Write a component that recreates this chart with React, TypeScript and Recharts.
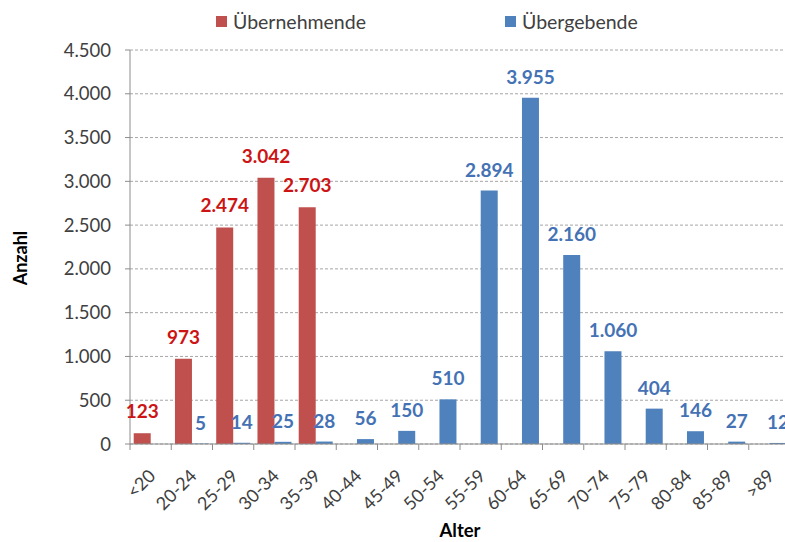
import React from 'react';
import { BarChart, Bar, XAxis, YAxis, CartesianGrid, LabelList, Label } from 'recharts';

const categories = ['<20', '20-24', '25-29', '30-34', '35-39', '40-44', '45-49', '50-54', '55-59', '60-64', '65-69', '70-74', '75-79', '80-84', '85-89', '>89'];
const uebernehmende: (number | null)[] = [123, 973, 2474, 3042, 2703, null, null, null, null, null, null, null, null, null, null, null];
const uebergebende: (number | null)[] = [null, 5, 14, 25, 28, 56, 150, 510, 2894, 3955, 2160, 1060, 404, 146, 27, 12];
const yTicks = [0, 500, 1000, 1500, 2000, 2500, 3000, 3500, 4000, 4500];
const seriesNames = ['Übernehmende', 'Übergebende'];

const data = categories.map((c, i) => ({ cat: c, ueb: uebernehmende[i], ubg: uebergebende[i] }));

const FONT = 'Lato, "Open Sans", sans-serif';
const RED = '#C0504D';
const BLUE = '#4F81BD';
const RED_LABEL = '#CC1414';
const BLUE_LABEL = '#4472B4';
const AXIS = '#8C8C8C';
const TEXT = '#404040';

const CHART_W = 792;
const CHART_H = 542;
const MARGIN = { top: 50, right: 2, bottom: 0, left: 0 };
const Y_W = 130;
const PLOT_W = CHART_W - MARGIN.left - MARGIN.right - Y_W;
const HALF_BAND = PLOT_W / categories.length / 2;

const fmt = (v: any) => {
  if (v === null || v === undefined || v === '') return '';
  return String(v).replace(/\B(?=(\d{3})+(?!\d))/g, '.');
};

const XTick = (props: any) => {
  const { x, y, payload } = props;
  const tx = x + 6;
  const ty = y + 27;
  return (
    <g>
      <line x1={x - HALF_BAND} x2={x - HALF_BAND} y1={y - 6} y2={y} stroke={AXIS} strokeWidth={1} />
      <text x={tx} y={ty} transform={`rotate(-45 ${tx} ${ty})`} textAnchor="end" fill={TEXT} fontSize={18} fontFamily={FONT}>
        {payload.value}
      </text>
    </g>
  );
};

const legendItems = [
  { name: seriesNames[0], color: RED, left: 216 },
  { name: seriesNames[1], color: BLUE, left: 505 },
];

export default function App() {
  return (
    <div style={{ position: 'fixed', left: 0, top: 0, width: 785, height: 542, overflow: 'hidden', background: '#fff' }}>
      {legendItems.map((it, i) => (
        <div key={i} style={{ position: 'absolute', left: it.left, top: 10, display: 'flex', alignItems: 'center', fontFamily: FONT, fontSize: 19.5, color: TEXT, whiteSpace: 'nowrap', zIndex: 2 }}>
          <span style={{ display: 'inline-block', width: 11, height: 11, background: it.color, marginRight: 6 }} />
          <span>{it.name}</span>
        </div>
      ))}
      <BarChart width={CHART_W} height={CHART_H} data={data} margin={MARGIN} barCategoryGap="9%" barGap={0}>
        <CartesianGrid vertical={false} stroke="#A6A6A6" strokeDasharray="3 2" />
        <XAxis
          dataKey="cat"
          interval={0}
          height={98}
          tickLine={false}
          tickSize={6}
          tickMargin={0}
          axisLine={{ stroke: AXIS }}
          tick={<XTick />}
        >
          <Label
            content={(p: any) => {
              const vb = p.viewBox;
              return (
                <text x={vb.x + vb.width / 2} y={vb.y + vb.height - 5} textAnchor="middle" fontFamily={FONT} fontWeight={700} fontSize={18.5} fill="#000">
                  Alter
                </text>
              );
            }}
          />
        </XAxis>
        <YAxis
          width={Y_W}
          domain={[0, 4500]}
          ticks={yTicks}
          interval={0}
          tickFormatter={fmt}
          axisLine={{ stroke: AXIS }}
          tickLine={{ stroke: AXIS }}
          tickSize={5}
          tickMargin={14}
          tick={{ fill: TEXT, fontSize: 18.5, fontFamily: FONT }}
        >
          <Label
            content={(p: any) => {
              const vb = p.viewBox;
              const lx = vb.x + 27;
              const ly = vb.y + vb.height / 2 + 11;
              return (
                <text x={lx} y={ly} transform={`rotate(-90 ${lx} ${ly})`} textAnchor="middle" fontFamily={FONT} fontWeight={700} fontSize={18} fill="#000">
                  Anzahl
                </text>
              );
            }}
          />
        </YAxis>
        <Bar dataKey="ueb" name={seriesNames[0]} fill={RED} isAnimationActive={false}>
          <LabelList dataKey="ueb" position="top" offset={15} formatter={fmt} fill={RED_LABEL} fontFamily={FONT} fontWeight={700} fontSize={19} />
        </Bar>
        <Bar dataKey="ubg" name={seriesNames[1]} fill={BLUE} isAnimationActive={false}>
          <LabelList dataKey="ubg" position="top" offset={14} formatter={fmt} fill={BLUE_LABEL} fontFamily={FONT} fontWeight={700} fontSize={19} />
        </Bar>
      </BarChart>
    </div>
  );
}
